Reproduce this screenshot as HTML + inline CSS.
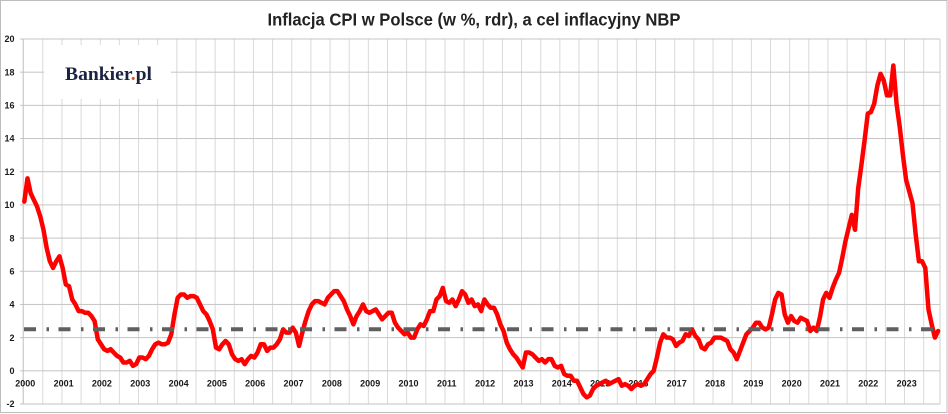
<!DOCTYPE html>
<html>
<head>
<meta charset="utf-8">
<style>
  html,body{margin:0;padding:0;background:#fff;}
  svg{display:block;}
  .ax{font-family:"Liberation Sans",Arial,sans-serif;font-weight:bold;font-size:9px;fill:#1a1a1a;}
</style>
</head>
<body>
<svg width="948" height="414" viewBox="0 0 948 414" xmlns="http://www.w3.org/2000/svg">
  <defs>
    <pattern id="vg" x="23.15" y="0" width="19.15" height="414" patternUnits="userSpaceOnUse">
      <rect x="0" y="0" width="1" height="414" fill="#d9d9d9"/>
    </pattern>
    <pattern id="hg" x="0" y="38.5" width="948" height="33.18" patternUnits="userSpaceOnUse">
      <rect x="0" y="0" width="948" height="1" fill="#c4c4c4"/>
    </pattern>
  </defs>
  <rect x="0" y="0" width="948" height="414" fill="#fff"/>
  <rect x="0.5" y="0.5" width="946.5" height="412" fill="none" stroke="#bdbdbd" stroke-width="1"/>

  <text x="474" y="25.5" text-anchor="middle" textLength="413" lengthAdjust="spacingAndGlyphs"
        font-family="'Liberation Sans',Arial,sans-serif" font-weight="bold" font-size="17.5" fill="#222">Inflacja CPI w Polsce (w %, rdr), a cel inflacyjny NBP</text>

  <rect x="41" y="39" width="895" height="365" fill="url(#vg)"/>
  <line x1="940" y1="39" x2="940" y2="404" stroke="#cfcfcf" stroke-width="1"/>
  <rect x="20" y="38" width="920" height="367" fill="url(#hg)"/>
  <line x1="23.2" y1="39" x2="23.2" y2="404" stroke="#bdbdbd" stroke-width="1"/>

  <rect x="44" y="45" width="127" height="54" fill="#fff"/>
  <text x="65" y="80" textLength="87" lengthAdjust="spacingAndGlyphs"
        font-family="'Liberation Serif','DejaVu Serif',serif" font-weight="bold" font-size="19" fill="#1b2342">Bankier<tspan fill="#e8501e">.</tspan>pl</text>

  <g class="ax" text-anchor="end">
    <text x="14.5" y="42.2">20</text>
    <text x="14.5" y="75.4">18</text>
    <text x="14.5" y="108.6">16</text>
    <text x="14.5" y="141.7">14</text>
    <text x="14.5" y="174.9">12</text>
    <text x="14.5" y="208.1">10</text>
    <text x="14.5" y="241.3">8</text>
    <text x="14.5" y="274.5">6</text>
    <text x="14.5" y="307.6">4</text>
    <text x="14.5" y="340.8">2</text>
    <text x="14.5" y="374">0</text>
    <text x="14.5" y="407.2">-2</text>
  </g>

  <g class="ax" text-anchor="middle">
    <text x="25.3" y="386.5">2000</text>
    <text x="63.6" y="386.5">2001</text>
    <text x="101.9" y="386.5">2002</text>
    <text x="140.3" y="386.5">2003</text>
    <text x="178.6" y="386.5">2004</text>
    <text x="216.9" y="386.5">2005</text>
    <text x="255.2" y="386.5">2006</text>
    <text x="293.5" y="386.5">2007</text>
    <text x="331.9" y="386.5">2008</text>
    <text x="370.2" y="386.5">2009</text>
    <text x="408.5" y="386.5">2010</text>
    <text x="446.8" y="386.5">2011</text>
    <text x="485.1" y="386.5">2012</text>
    <text x="523.5" y="386.5">2013</text>
    <text x="561.8" y="386.5">2014</text>
    <text x="600.1" y="386.5">2015</text>
    <text x="638.4" y="386.5">2016</text>
    <text x="676.7" y="386.5">2017</text>
    <text x="715.1" y="386.5">2018</text>
    <text x="753.4" y="386.5">2019</text>
    <text x="791.7" y="386.5">2020</text>
    <text x="830" y="386.5">2021</text>
    <text x="868.3" y="386.5">2022</text>
    <text x="906.7" y="386.5">2023</text>
  </g>

  <g transform="translate(8.33,370.8) scale(3.195,-16.59)">
    <polyline fill="none" stroke="#ff0000" stroke-width="4.5" stroke-linejoin="round" stroke-linecap="round" vector-effect="non-scaling-stroke"
      points="5,10.2 6,11.6 7,10.7 8,10.3 9,9.9 10,9.3 11,8.5 12,7.4 13,6.6 14,6.2 15,6.6 16,6.9 17,6.2 18,5.2 19,5.1 20,4.3 21,4.0 22,3.6 23,3.6 24,3.5 25,3.5 26,3.3 27,3.0 28,1.9 29,1.6 30,1.3 31,1.2 32,1.3 33,1.1 34,0.9 35,0.8 36,0.5 37,0.5 38,0.6 39,0.3 40,0.4 41,0.8 42,0.8 43,0.7 44,0.9 45,1.3 46,1.6 47,1.7 48,1.6 49,1.6 50,1.7 51,2.2 52,3.4 53,4.4 54,4.6 55,4.6 56,4.4 57,4.5 58,4.5 59,4.4 60,4.0 61,3.6 62,3.4 63,3.0 64,2.5 65,1.4 66,1.3 67,1.6 68,1.8 69,1.6 70,1.0 71,0.7 72,0.6 73,0.7 74,0.4 75,0.7 76,0.9 77,0.8 78,1.1 79,1.6 80,1.6 81,1.2 82,1.4 83,1.4 84,1.6 85,1.9 86,2.5 87,2.3 88,2.3 89,2.6 90,2.3 91,1.5 92,2.3 93,3.0 94,3.6 95,4.0 96,4.2 97,4.2 98,4.1 99,4.0 100,4.4 101,4.6 102,4.8 103,4.8 104,4.5 105,4.2 106,3.7 107,3.3 108,2.8 109,3.3 110,3.6 111,4.0 112,3.6 113,3.5 114,3.6 115,3.7 116,3.4 117,3.1 118,3.3 119,3.5 120,3.5 121,2.9 122,2.6 123,2.4 124,2.2 125,2.3 126,2.0 127,2.0 128,2.5 129,2.8 130,2.7 131,3.1 132,3.6 133,3.6 134,4.3 135,4.5 136,5.0 137,4.2 138,4.1 139,4.3 140,3.9 141,4.3 142,4.8 143,4.6 144,4.1 145,4.3 146,3.9 147,4.0 148,3.6 149,4.3 150,4.0 151,3.8 152,3.8 153,3.4 154,2.8 155,2.4 156,1.7 157,1.3 158,1.0 159,0.8 160,0.5 161,0.2 162,1.1 163,1.1 164,1.0 165,0.8 166,0.6 167,0.7 168,0.5 169,0.7 170,0.7 171,0.3 172,0.2 173,0.3 174,-0.2 175,-0.3 176,-0.3 177,-0.6 178,-0.6 179,-1.0 180,-1.4 181,-1.6 182,-1.5 183,-1.1 184,-0.9 185,-0.8 186,-0.7 187,-0.6 188,-0.8 189,-0.7 190,-0.6 191,-0.5 192,-0.9 193,-0.8 194,-0.9 195,-1.1 196,-0.9 197,-0.8 198,-0.9 199,-0.8 200,-0.5 201,-0.2 202,0.0 203,0.8 204,1.7 205,2.2 206,2.0 207,2.0 208,1.9 209,1.5 210,1.7 211,1.8 212,2.2 213,2.1 214,2.5 215,2.1 216,1.9 217,1.4 218,1.3 219,1.6 220,1.7 221,2.0 222,2.0 223,2.0 224,1.9 225,1.8 226,1.3 227,1.1 228,0.7 229,1.2 230,1.7 231,2.2 232,2.4 233,2.6 234,2.9 235,2.9 236,2.6 237,2.5 238,2.6 239,3.4 240,4.3 241,4.7 242,4.6 243,3.4 244,2.9 245,3.3 246,3.0 247,2.9 248,3.2 249,3.1 250,3.0 251,2.4 252,2.6 253,2.4 254,3.2 255,4.3 256,4.7 257,4.4 258,5.0 259,5.5 260,5.9 261,6.8 262,7.8 263,8.6 264,9.4 265,8.5 266,11.0 267,12.4 268,13.9 269,15.5 270,15.6 271,16.1 272,17.2 273,17.9 274,17.5 275,16.6 276,16.6 277,18.4 278,16.1 279,14.7 280,13.0 281,11.5 282,10.8 283,10.1 284,8.2 285,6.6 286,6.6 287,6.2 288,3.7 289,2.8 290,2.0 291,2.4"/>
  </g>

  <line x1="24" y1="329.3" x2="940" y2="329.3" stroke="#5f5f5f" stroke-width="4" stroke-dasharray="12 10.5 2.5 9.5"/>
</svg>
</body>
</html>
